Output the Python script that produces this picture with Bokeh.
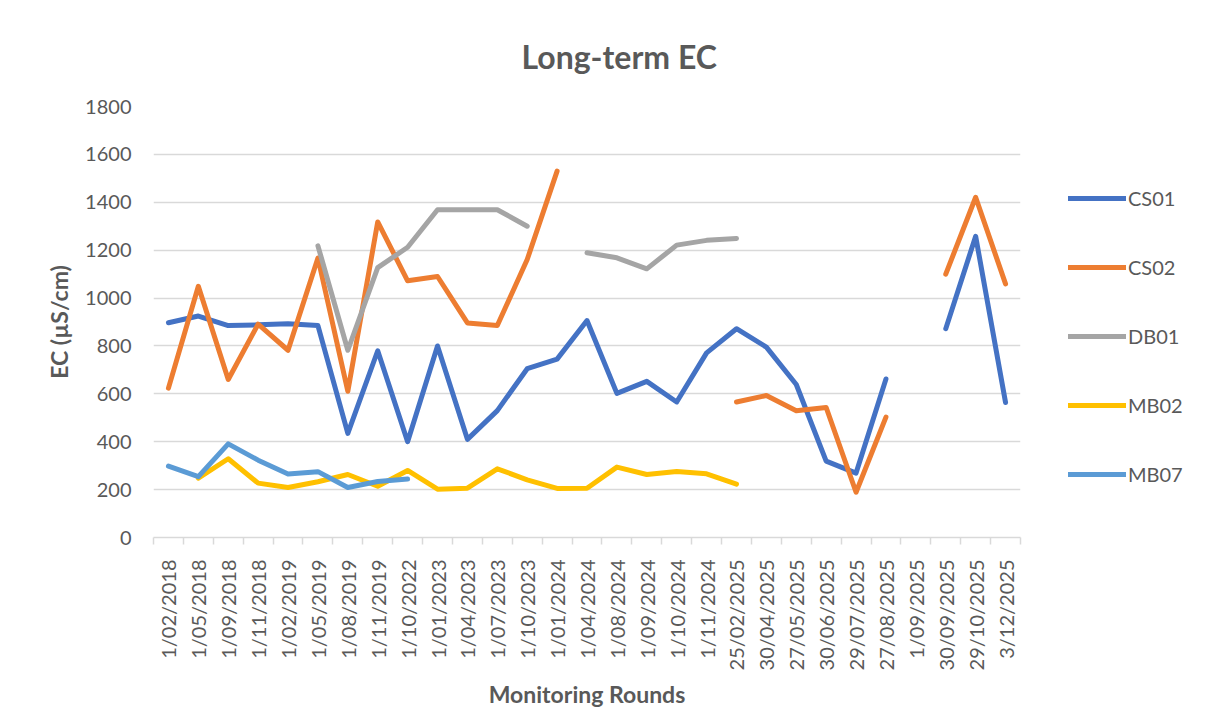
import numpy as np
from bokeh.plotting import figure
from bokeh.models import Range1d, FixedTicker, Legend, LegendItem
from bokeh.embed import file_html
from bokeh.resources import INLINE

categories = ["1/02/2018", "1/05/2018", "1/09/2018", "1/11/2018", "1/02/2019",
              "1/05/2019", "1/08/2019", "1/11/2019", "1/10/2022", "1/01/2023",
              "1/04/2023", "1/07/2023", "1/10/2023", "1/01/2024", "1/04/2024",
              "1/08/2024", "1/09/2024", "1/10/2024", "1/11/2024", "25/02/2025",
              "30/04/2025", "27/05/2025", "30/06/2025", "29/07/2025", "27/08/2025",
              "1/09/2025", "30/09/2025", "29/10/2025", "3/12/2025"]

CS01 = [897, 925, 885, 888, 893, 885, 435, 780, 400, 800,
        410, 530, 705, 745, 906, 602, 652, 566, 771, 872,
        795, 639, 319, 269, 662, None, 872, 1258, 564]
CS02 = [624, 1049, 660, 891, 782, 1167, 611, 1318, 1072, 1090,
        896, 885, 1161, 1530, None, None, None, None, None, 566,
        593, 529, 543, 189, 503, None, 1100, 1421, 1059]
DB01 = [None, None, None, None, None, 1218, 782, 1127, 1212, 1369,
        1369, 1369, 1300, None, 1189, 1168, 1122, 1221, 1241, 1249,
        None, None, None, None, None, None, None, None, None]
MB02 = [None, 248, 329, 227, 209, 233, 263, 214, 280, 202,
        206, 287, 241, 205, 206, 294, 263, 276, 266, 223,
        None, None, None, None, None, None, None, None, None]
MB07 = [298, 254, 391, 323, 265, 275, 209, 234, 244, None,
        None, None, None, None, None, None, None, None, None, None,
        None, None, None, None, None, None, None, None, None]

series_names = ["CS01", "CS02", "DB01", "MB02", "MB07"]
series_values = [CS01, CS02, DB01, MB02, MB07]
colors = ["#4472C4", "#ED7D31", "#A5A5A5", "#FFC000", "#5B9BD5"]
y_ticks = [0, 200, 400, 600, 800, 1000, 1200, 1400, 1600, 1800]

FONT = "Lato"
TXT = "#595959"
GRID = "#D9D9D9"

n = len(categories)
xs = list(range(n))

p = figure(frame_width=867, frame_height=431,
           x_range=Range1d(-0.5, n - 0.5), y_range=Range1d(0, 1800),
           output_backend="svg", toolbar_location=None,
           min_border_left=153, min_border_right=190,
           min_border_top=106, min_border_bottom=178)
p.outline_line_color = None
p.background_fill_color = "white"
p.border_fill_color = "white"

# title
p.title.text = "Long-term EC"
p.title.align = "left"
p.title.offset = 368
p.title.standoff = 61
p.title.vertical_align = "bottom"
p.title.text_font = FONT
p.title.text_font_size = "32px"
p.title.text_font_style = "bold"
p.title.text_color = TXT

# x axis
p.xaxis.ticker = FixedTicker(ticks=xs, minor_ticks=[i - 0.5 for i in range(n + 1)])
p.xaxis.major_label_overrides = {i: c for i, c in enumerate(categories)}
p.xaxis.major_label_orientation = np.pi / 2
p.xaxis.major_tick_line_color = None
p.xaxis.major_tick_out = 0
p.xaxis.major_tick_in = 0
p.xaxis.minor_tick_line_color = GRID
p.xaxis.minor_tick_line_width = 1.5
p.xaxis.minor_tick_out = 7
p.xaxis.minor_tick_in = 0
p.xaxis.axis_line_color = GRID
p.xaxis.axis_line_width = 1.5
p.xaxis.major_label_standoff = 15
p.xaxis.major_label_text_font = FONT
p.xaxis.major_label_text_font_size = "20px"
p.xaxis.major_label_text_color = TXT
p.xaxis.axis_label = "Monitoring Rounds"
p.xaxis.axis_label_text_font = FONT
p.xaxis.axis_label_text_font_size = "23px"
p.xaxis.axis_label_text_font_style = "bold"
p.xaxis.axis_label_text_color = TXT
p.xaxis.axis_label_standoff = 7

# y axis
p.yaxis.ticker = FixedTicker(ticks=y_ticks)
p.yaxis.axis_line_color = None
p.yaxis.major_tick_line_color = None
p.yaxis.minor_tick_line_color = None
p.yaxis.major_tick_out = 0
p.yaxis.major_label_standoff = 22
p.yaxis.major_label_text_font = FONT
p.yaxis.major_label_text_font_size = "20px"
p.yaxis.major_label_text_color = TXT
p.yaxis.axis_label = "EC (µS/cm)"
p.yaxis.axis_label_text_font = FONT
p.yaxis.axis_label_text_font_size = "23px"
p.yaxis.axis_label_text_font_style = "bold"
p.yaxis.axis_label_text_color = TXT
p.yaxis.axis_label_standoff = 9

p.xgrid.grid_line_color = None
p.ygrid.grid_line_color = GRID
p.ygrid.grid_line_width = 1.5

items = []
for name, vals, col in zip(series_names, series_values, colors):
    ys = [np.nan if v is None else v for v in vals]
    r = p.line(xs, ys, line_color=col, line_width=5, line_cap="round", line_join="round")
    items.append(LegendItem(label=name, renderers=[r]))

legend = Legend(items=items, location=(48, 51), orientation="vertical",
                glyph_width=58, glyph_height=20, label_height=20, label_standoff=2,
                spacing=45, padding=10, margin=0,
                border_line_color=None, background_fill_alpha=0,
                label_text_font=FONT, label_text_font_size="20px", label_text_color=TXT)
p.add_layout(legend, "right")

open("out.html", "w").write(file_html(p, INLINE))
